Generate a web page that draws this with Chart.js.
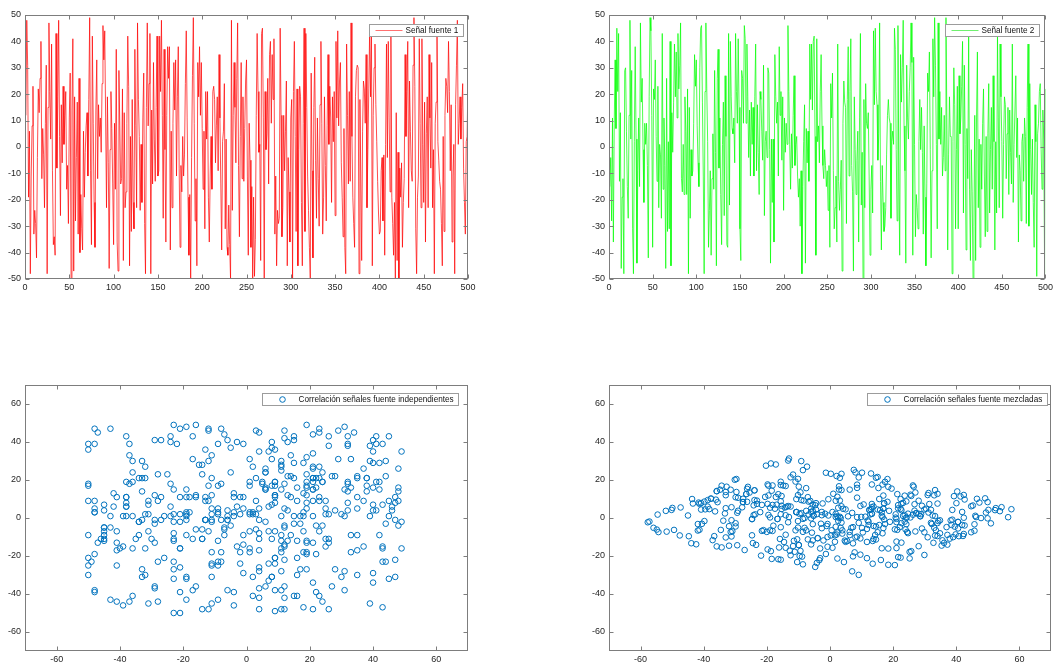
<!DOCTYPE html>
<html>
<head>
<meta charset="utf-8">
<script src="https://cdn.jsdelivr.net/npm/chart.js@4.4.0/dist/chart.umd.min.js"></script>
<style>
  body { margin: 0; background: #fff; width: 1056px; height: 662px; overflow: hidden; position: relative; }
  .panel { position: absolute; }
</style>
</head>
<body>
<div class="panel" style="left:0;top:0;width:480px;height:300px"><canvas id="senal1"></canvas></div>
<div class="panel" style="left:585px;top:0;width:471px;height:300px"><canvas id="senal2"></canvas></div>
<div class="panel" style="left:0;top:370px;width:480px;height:310px"><canvas id="indep"></canvas></div>
<div class="panel" style="left:585px;top:370px;width:471px;height:310px"><canvas id="mezcla"></canvas></div>
<script>
// Señales fuente (500 muestras cada una)
var fuente1 = [
  12, 48, 31, -19, 6, -48, -11, 8, 23, -33, -24, -29, -42, -4, 22, 13, 26, 40, -12, 7, -3, -23, 9, 31, -48,
  15, 47, 21, 3, 39, -9, -37, -34, -41, 43, -8, 19, 48, 4, -26, 16, -6, 23, 1, 12, 21, -16, -7, -29, 11,
  28, -50, 14, 41, -47, 19, -28, -4, 17, -33, 26, -40, -18, -31, -39, 6, -19, -2, 8, 13, -11, 18, 49, -9, -37,
  42, 9, -21, -38, 14, 33, -12, 16, 4, 11, -2, 24, 46, 33, 44, 11, -23, 19, -6, -46, -1, 21, 7, -14, -37,
  9, -16, 37, -36, -47, 29, 8, -14, -12, 22, -43, 13, -23, -17, 9, 42, 23, -45, 4, -32, 18, -21, -31, 37, 8,
  -23, 47, 18, 4, -24, 1, -21, 11, 28, -29, -48, 15, 47, 8, 24, 43, -48, 14, -14, 32, 3, -13, 15, 42, -11,
  -9, 42, 21, 48, 12, -27, 37, -1, -36, 12, 38, 26, 38, -39, 6, -23, 9, 32, 14, 33, -11, 19, 38, -8, -38,
  -7, -17, 4, -11, -3, 24, 44, 11, -19, -41, -18, -50, -4, 27, 49, 9, -28, -12, -45, 32, 19, 38, 12, 32, 7,
  -16, 6, -31, 21, 3, 21, -19, -36, -11, 4, -16, 21, 23, 18, -6, 8, 19, -9, 35, 11, -14, -39, 2, 6, 24,
  -31, 3, -38, -41, -22, -37, -50, 48, -24, 12, 32, 15, -6, 26, 47, -7, -34, 4, 32, -12, 19, -13, 7, 25, 33,
  -11, -41, 9, -5, -38, -15, -50, -19, -49, -35, 12, 43, 21, -2, 1, -43, 43, 45, 11, -50, 21, -1, 5, 26, -14,
  35, 40, 9, 35, 18, 41, -33, -11, -45, -24, -29, -27, 45, 12, -34, -23, 12, -9, 6, 25, -45, -4, -17, -36, 11,
  18, -50, 21, 40, 4, -32, 22, -45, -1, 23, 19, -21, -45, 9, 45, -32, 43, 15, -11, -24, -38, -50, 28, -9, -42,
  15, 34, -5, -27, 11, -12, -30, 16, 40, 9, -33, -19, 19, -7, -28, 8, 35, 1, 23, 11, -21, 19, 2, 21, -26,
  40, 11, 44, 8, 25, 32, -6, -19, -34, 7, -38, -48, 39, 12, -14, 21, -13, 47, 4, -19, -29, -38, 19, 29, 31,
  30, -48, 18, -11, -43, 6, 25, 22, 9, 35, -23, -1, 22, 44, 19, 46, -45, 12, 30, 39, 16, 2, -13, -25, -33,
  -32, -9, -4, -28, -3, -41, 1, 39, -4, 40, 11, -17, 43, -19, -29, -41, -21, -50, 13, -43, -2, -50, -8, -19, -6,
  -38, -21, -12, 35, 4, 21, 40, -23, 25, 6, -9, -13, 31, 49, 23, -31, -48, -19, -11, 41, 9, -23, 41, 1, -21,
  17, -36, 5, 19, -23, 35, 11, -8, 32, -23, -1, -48, 9, 17, 45, 2, -5, -13, -16, -29, -45, 4, -32, 12, 26,
  23, 13, 40, 21, -9, 16, -36, -11, 1, -48, 16, 31, 48, 1, 9, 19, 3, 15, 24, -8, -21, -33, 2, 4, 27
];

var fuente2 = [
  -15, -4, -28, 11, -36, 9, 33, 7, 45, 21, 43, -13, 13, -46, -19, -12, -48, 29, 30, 6, -15, -27, 12, 48, 3,
  29, -31, -48, 2, 38, 3, -44, -9, 11, -15, 47, 17, 26, -1, -21, 9, 1, 9, -7, -42, 19, 49, 44, 12, -38,
  22, 18, 33, 4, -13, 23, -23, 1, -3, -27, 43, -16, 11, -7, -46, 26, -32, 2, -31, 40, -45, 13, -2, 17, 39,
  19, 36, 11, 43, 22, 31, 47, -12, -17, 1, -18, 19, 6, -18, 22, -48, 15, -27, -1, -11, -9, 9, 35, 23, 33,
  8, -6, -15, 30, 45, 46, 17, -11, -48, 21, 47, 22, 2, -38, -24, -9, -41, -12, 5, -16, 29, -2, -45, 26, 37,
  -8, 11, -18, -37, 1, 17, -26, 27, 4, -37, -38, 43, -22, 40, 19, 7, 5, 11, -6, 43, 21, 9, 41, 15, -31,
  -43, 29, 26, 9, 46, 41, 9, 39, 19, -4, 14, -11, 17, 1, 15, -11, 19, 39, -9, 16, -2, -18, 21, 18, 6,
  -5, 31, -26, 2, 6, -4, 30, 28, -1, -44, 3, -21, 3, -36, 35, 19, 9, 17, -11, 38, 12, 21, -5, 19, -24,
  11, -2, 9, 1, 46, 21, 1, -16, 5, -8, 12, 27, -7, 1, 4, -11, -19, -12, -30, -9, -48, -15, 2, 16, -44,
  7, -6, 6, -13, 39, 18, 39, 14, 40, 42, 4, -41, 41, 2, 8, -6, 21, 35, 8, -7, -12, -1, -7, -15, -9,
  -24, -7, -38, 24, 11, 28, -9, -31, -23, -11, -36, 39, -13, -24, -16, -5, -47, 9, 25, 17, 15, -29, 18, 38, -11,
  21, 41, -7, -17, -47, 19, -1, -18, -5, 6, -36, 11, 43, -22, -2, -50, 18, -23, 24, 9, 7, 13, -11, -41, -16,
  -7, -25, 44, 16, 45, 21, 16, -5, 5, 47, -13, -39, -7, -21, -32, -30, -23, -3, 12, 18, 11, 9, -27, 2, 6,
  1, 45, 37, -1, -28, 46, -11, -41, 35, 17, 30, 48, 8, -9, -44, 31, 11, 3, 21, 30, 47, 32, -41, 34, 1,
  -34, -18, -23, -31, 2, 18, -1, 15, -2, -33, 8, -19, -45, -14, 28, 21, 36, -1, -42, -9, 41, 19, 49, 31, 1,
  -31, 47, 3, 21, 1, 15, -11, -4, 12, -9, 49, 11, -39, -3, 19, 4, 4, -48, 2, 30, 16, -31, -1, 23, -31,
  27, 5, 11, 23, 40, -25, 31, 1, -39, 7, -12, 43, -16, -43, -1, -17, -50, -30, 12, -43, 11, 36, -23, 3, -38,
  1, -16, 9, 22, -11, -34, 4, -32, 5, 24, -25, -1, 15, -16, 27, 2, -39, 2, -25, 43, 11, -23, 39, 19, 2,
  -27, 1, 19, 16, -12, 5, 15, -18, 14, -2, -14, 39, -21, 1, 1, 27, -4, 11, -36, -3, -9, -28, 2, 5, -13,
  11, 4, -29, 15, 39, -30, 24, -1, -18, 3, -21, -38, 16, 2, -49, 5, 9, 21, 24, -1, -16, 14, 3, -48, 22
];

// Matriz de mezcla (estimada de la forma de la nube mezclada)
var MEZCLA = [[0.78, 0.52], [-0.27, 0.39]];

var ticksMuestra = [0, 50, 100, 150, 200, 250, 300, 350, 400, 450, 500];
var ticksAmplitud = [-50, -40, -30, -20, -10, 0, 10, 20, 30, 40, 50];
var ticksDispersion = [-60, -40, -20, 0, 20, 40, 60];

var FUENTE = '"Liberation Sans", Arial, Helvetica, sans-serif';
var COLOR_EJE = '#7d7d7d';

// Marco tipo MATLAB: caja, ticks hacia dentro y leyenda dentro del area
var marco = {
  id: 'marco',
  afterDraw: function(chart, args, opts) {
    var ctx = chart.ctx, a = chart.chartArea;
    var sx = chart.scales.x, sy = chart.scales.y;
    var L = Math.round(a.left) + 0.5, R = Math.round(a.right) - 0.5;
    var T = Math.round(a.top) + 0.5, B = Math.round(a.bottom) - 0.5;
    ctx.save();
    ctx.strokeStyle = COLOR_EJE;
    ctx.lineWidth = 1;
    ctx.strokeRect(L, T, R - L, B - T);
    ctx.beginPath();
    sx.ticks.forEach(function(t) {
      var p = Math.round(sx.getPixelForValue(t.value)) + 0.5;
      ctx.moveTo(p, B); ctx.lineTo(p, B - 4);
      ctx.moveTo(p, T); ctx.lineTo(p, T + 4);
    });
    sy.ticks.forEach(function(t) {
      var p = Math.round(sy.getPixelForValue(t.value)) + 0.5;
      ctx.moveTo(L, p); ctx.lineTo(L + 4, p);
      ctx.moveTo(R, p); ctx.lineTo(R - 4, p);
    });
    ctx.stroke();

    // leyenda
    ctx.font = '8.2px ' + FUENTE;
    var tw = ctx.measureText(opts.texto).width;
    var w = Math.round(36 + tw + 5), h = 12;
    var x0 = Math.round(a.right - opts.derecha - w) + 0.5;
    var y0 = Math.round(a.top + opts.arriba) + 0.5;
    ctx.fillStyle = '#fff';
    ctx.fillRect(x0, y0, w, h);
    ctx.strokeStyle = '#9c9c9c';
    ctx.strokeRect(x0, y0, w, h);
    ctx.strokeStyle = opts.color;
    ctx.lineWidth = 1;
    ctx.beginPath();
    if (opts.tipo === 'linea') {
      ctx.moveTo(x0 + 6, y0 + h / 2);
      ctx.lineTo(x0 + 33, y0 + h / 2);
    } else {
      ctx.arc(x0 + 20, y0 + h / 2, 2.8, 0, Math.PI * 2);
    }
    ctx.stroke();
    ctx.fillStyle = '#111';
    ctx.textBaseline = 'middle';
    ctx.fillText(opts.texto, x0 + 36, y0 + h / 2 + 0.5);
    ctx.restore();
  }
};

function escala(min, max, valores, tam, eje) {
  return {
    type: 'linear',
    min: min,
    max: max,
    afterBuildTicks: function(s) {
      s.ticks = valores.map(function(v) { return { value: v }; });
    },
    afterFit: function(s) {
      if (eje === 'x') s.height = tam; else s.width = tam;
    },
    grid: { display: false, drawTicks: false },
    border: { display: false },
    ticks: {
      autoSkip: false,
      maxRotation: 0,
      padding: eje === 'x' ? 3 : 4,
      color: '#262626',
      font: { family: FUENTE, size: 9 }
    }
  };
}

function opciones(padding, ejeX, ejeY, leyenda) {
  return {
    responsive: true,
    maintainAspectRatio: false,
    animation: false,
    events: [],
    layout: { padding: padding, autoPadding: false },
    scales: { x: ejeX, y: ejeY },
    plugins: {
      legend: { display: false },
      tooltip: { enabled: false },
      marco: leyenda
    }
  };
}

function puntosLinea(serie) {
  return serie.map(function(v, i) { return { x: i + 1, y: v }; });
}

function graficoSenal(id, serie, color, texto, padding, anchoY, leyenda) {
  return new Chart(document.getElementById(id), {
    type: 'line',
    data: {
      datasets: [{
        label: texto,
        data: puntosLinea(serie),
        borderColor: color,
        borderWidth: 0.7,
        pointRadius: 0,
        tension: 0,
        fill: false
      }]
    },
    options: opciones(padding,
      escala(0, 500, ticksMuestra, 21, 'x'),
      escala(-50, 50, ticksAmplitud, anchoY, 'y'),
      leyenda),
    plugins: [marco]
  });
}

function graficoDispersion(id, puntos, texto, padding, anchoY, leyenda) {
  return new Chart(document.getElementById(id), {
    type: 'scatter',
    data: {
      datasets: [{
        label: texto,
        data: puntos,
        borderColor: '#0072BD',
        backgroundColor: 'rgba(0,0,0,0)',
        borderWidth: 1,
        pointRadius: 2.8,
        pointStyle: 'circle'
      }]
    },
    options: opciones(padding,
      escala(-70, 70, ticksDispersion, 29, 'x'),
      escala(-70, 70, ticksDispersion, anchoY, 'y'),
      leyenda),
    plugins: [marco]
  });
}

graficoSenal('senal1', fuente1, '#ff0000', 'Señal fuente 1',
  { top: 15, right: 12, left: 0, bottom: 0 }, 25,
  { texto: 'Señal fuente 1', tipo: 'linea', color: '#ff7070', derecha: 5, arriba: 9 });

graficoSenal('senal2', fuente2, '#00ff00', 'Señal fuente 2',
  { top: 15, right: 6, left: 0, bottom: 0 }, 24,
  { texto: 'Señal fuente 2', tipo: 'linea', color: '#70f070', derecha: 6, arriba: 9 });

var puntosIndep = fuente1.map(function(v, i) {
  return { x: v, y: fuente2[i] };
});
var puntosMezcla = fuente1.map(function(v, i) {
  return {
    x: MEZCLA[0][0] * v + MEZCLA[0][1] * fuente2[i],
    y: MEZCLA[1][0] * v + MEZCLA[1][1] * fuente2[i]
  };
});

graficoDispersion('indep', puntosIndep, 'Correlación señales fuente independientes',
  { top: 15, right: 12, left: 0, bottom: 0 }, 25,
  { texto: 'Correlación señales fuente independientes', tipo: 'circulo', color: '#0072BD', derecha: 10, arriba: 8 });

graficoDispersion('mezcla', puntosMezcla, 'Correlación señales fuente mezcladas',
  { top: 15, right: 5, left: 0, bottom: 0 }, 24,
  { texto: 'Correlación señales fuente mezcladas', tipo: 'circulo', color: '#0072BD', derecha: 4, arriba: 8 });
</script>
</body>
</html>
